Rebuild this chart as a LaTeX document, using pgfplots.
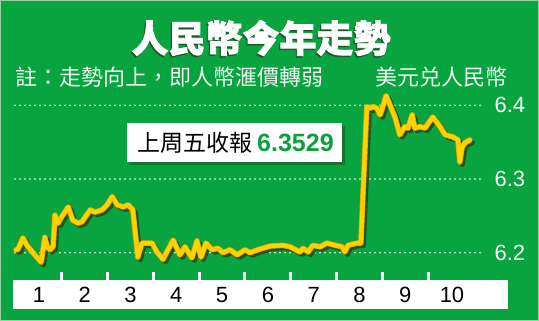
\documentclass[border=0pt]{standalone}
\usepackage{pgfplots}
\pgfplotsset{compat=1.18}
\usepackage{pgfplotstable}
\usepackage{fontspec}
\setmainfont{Liberation Sans}
\newfontfamily\cjk{Noto Sans CJK TC}
\newfontfamily\cjkheavy[BoldFeatures={FakeBold=2}]{Noto Sans CJK TC}
\newfontfamily\num{Liberation Sans}

\definecolor{bggreen}{RGB}{8,164,64}
\definecolor{edgegreen}{RGB}{150,210,160}
\definecolor{shadowc}{RGB}{30,85,35}
\definecolor{linec}{RGB}{255,210,0}
\definecolor{lineedge}{RGB}{235,165,0}
\definecolor{valgreen}{RGB}{10,160,60}
\definecolor{subwhite}{RGB}{240,245,240}

% USD/CNY, position in months (1 = start of January) and rate
\pgfplotstableread{
m      rate
1.00   6.204
1.04   6.204
1.15   6.220
1.24   6.210
1.41   6.197
1.55   6.187
1.63   6.221
1.68   6.208
1.74   6.204
1.81   6.208
1.85   6.251
1.92   6.240
1.98   6.247
2.14   6.262
2.24   6.244
2.35   6.240
2.44   6.242
2.62   6.258
2.72   6.255
2.88   6.258
2.99   6.265
3.10   6.276
3.21   6.265
3.34   6.262
3.45   6.265
3.55   6.258
3.66   6.194
3.75   6.213
3.97   6.213
4.08   6.201
4.21   6.191
4.43   6.217
4.58   6.197
4.69   6.208
4.84   6.193
4.95   6.216
5.04   6.194
5.15   6.213
5.28   6.204
5.41   6.206
5.52   6.200
5.67   6.204
5.83   6.197
6.00   6.204
6.11   6.200
6.28   6.204
6.55   6.209
6.83   6.210
6.98   6.208
7.20   6.201
7.27   6.206
7.38   6.201
7.48   6.210
7.64   6.208
7.79   6.213
7.97   6.210
8.12   6.208
8.18   6.201
8.25   6.210
8.45   6.213
8.53   6.213
8.66   6.398
8.73   6.396
8.79   6.398
8.88   6.396
8.95   6.387
9.01   6.398
9.08   6.413
9.17   6.400
9.28   6.383
9.38   6.360
9.49   6.371
9.56   6.369
9.65   6.387
9.71   6.369
9.82   6.371
9.93   6.369
10.10  6.384
10.26  6.371
10.37  6.360
10.54  6.357
10.65  6.353
10.69  6.323
10.74  6.343
10.80  6.349
10.91  6.3529
}\ratedata

\begin{document}
\begin{tikzpicture}[x=1pt, y=1pt]
  % background panel
  \fill[bggreen] (0,0) rectangle (539,321);
  \draw[edgegreen, line width=1.2pt] (0.6,0.6) rectangle (538.4,320.4);

  % titles
  \node[font=\cjkheavy\bfseries\fontsize{37}{37}\selectfont, text=shadowc, inner sep=0]
    at (259.8,281.5) {人民幣今年走勢};
  \node[font=\cjkheavy\bfseries\fontsize{37}{37}\selectfont, text=white, inner sep=0]
    at (261,283) {人民幣今年走勢};
  \node[font=\cjk\fontsize{22}{22}\selectfont, text=subwhite, inner sep=0, anchor=west]
    at (15,244) {註：走勢向上，即人幣滙價轉弱};
  \node[font=\cjk\fontsize{22}{22}\selectfont, text=subwhite, inner sep=0, anchor=east]
    at (508,244) {美元兑人民幣};

  % month strip
  \fill[white] (13,12) rectangle (508,41);

  \begin{axis}[
    at={(15pt,49pt)}, anchor=south west,
    scale only axis, width=468pt, height=181.45pt,
    xmin=0.978, xmax=11.197, ymin=6.1738, ymax=6.42,
    clip=false,
    axis x line*=bottom, axis y line*=right,
    axis line style={draw=none},
    xtick={2,...,10}, xticklabels={},
    xtick style={draw=white, line width=3pt},
    major tick length=8pt, tick align=outside,
    ytick={6.2,6.3,6.4}, ytick style={draw=none},
    ymajorgrids,
    grid style={white, line width=1.7pt, dash pattern=on 0pt off 5pt, line cap=round},
    /pgf/number format/assume math mode=true,
    yticklabel style={font=\num\fontsize{22}{22}\selectfont, text=white,
      /pgf/number format/fixed, /pgf/number format/precision=1,
      /pgf/number format/fixed zerofill},
  ]
    \addplot[shadowc, line width=5pt, line join=round, line cap=round,
      xshift=2.5pt, yshift=-2.5pt] table {\ratedata};
    \addplot[lineedge, line width=5.5pt, line join=round, line cap=round] table {\ratedata};
    \addplot[linec, line width=4pt, line join=round, line cap=round] table {\ratedata};

    % month names in the strip
    \node[font=\num\fontsize{22}{22}\selectfont] at (axis cs:1.5,6.1426) {1};
    \node[font=\num\fontsize{22}{22}\selectfont] at (axis cs:2.5,6.1426) {2};
    \node[font=\num\fontsize{22}{22}\selectfont] at (axis cs:3.5,6.1426) {3};
    \node[font=\num\fontsize{22}{22}\selectfont] at (axis cs:4.5,6.1426) {4};
    \node[font=\num\fontsize{22}{22}\selectfont] at (axis cs:5.5,6.1426) {5};
    \node[font=\num\fontsize{22}{22}\selectfont] at (axis cs:6.5,6.1426) {6};
    \node[font=\num\fontsize{22}{22}\selectfont] at (axis cs:7.5,6.1426) {7};
    \node[font=\num\fontsize{22}{22}\selectfont] at (axis cs:8.5,6.1426) {8};
    \node[font=\num\fontsize{22}{22}\selectfont] at (axis cs:9.5,6.1426) {9};
    \node[font=\num\fontsize{22}{22}\selectfont] at (axis cs:10.52,6.1426) {10};
  \end{axis}

  % closing-rate callout
  \fill[shadowc, opacity=0.6] (130,156) rectangle (345,195);
  \fill[white] (127,159) rectangle (342,198);
  \node[font=\cjk\fontsize{23}{23}\selectfont, text=black, inner sep=0, anchor=west]
    at (137,178) {上周五收報};
  \node[font=\num\bfseries\fontsize{25}{25}\selectfont, text=valgreen, inner sep=0, anchor=west]
    at (257,178) {6.3529};
\end{tikzpicture}
\end{document}
